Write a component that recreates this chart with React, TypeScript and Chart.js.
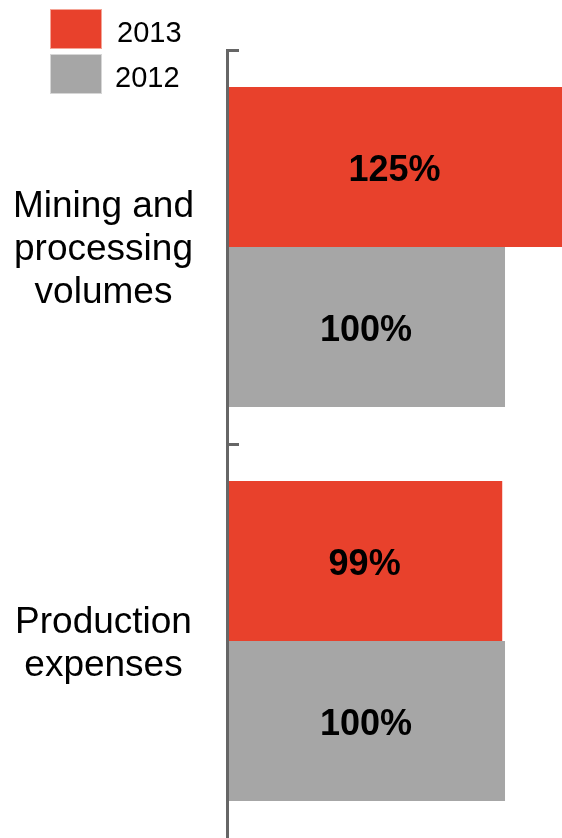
import React, { useEffect, useRef } from "react";
import { Chart, registerables } from "chart.js";

Chart.register(...registerables);

// ---- data ----
const categories: string[][] = [
  ["Mining and", "processing", "volumes"],
  ["Production", "expenses"],
];
const seriesNames: string[] = ["2013", "2012"];
const values2013: number[] = [125, 99];
const values2012: number[] = [100, 100];
const seriesColors: string[] = ["#E8412C", "#A6A6A6"];
const legendBorders: string[] = ["#F4A597", "#D6D6D6"];

const FONT = "'Liberation Sans', Arial, Helvetica, sans-serif";
const AXIS_COLOR = "#666666";

const barLabelPlugin = {
  id: "barLabels",
  afterDatasetsDraw(chart: any) {
    const { ctx, chartArea } = chart;
    ctx.save();
    ctx.font = `bold 36px ${FONT}`;
    ctx.fillStyle = "#000000";
    ctx.textAlign = "center";
    ctx.textBaseline = "middle";
    chart.data.datasets.forEach((ds: any, di: number) => {
      const meta = chart.getDatasetMeta(di);
      meta.data.forEach((bar: any, i: number) => {
        const { x, y, base } = bar.getProps(["x", "y", "base"], true);
        const left = Math.max(Math.min(x, base), chartArea.left);
        const right = Math.min(Math.max(x, base), chartArea.right);
        ctx.fillText(`${ds.data[i]}%`, (left + right) / 2, y + 4);
      });
    });
    ctx.restore();
  },
};

export default function App() {
  const canvasRef = useRef<HTMLCanvasElement | null>(null);

  useEffect(() => {
    if (!canvasRef.current) return;
    const chart = new Chart(canvasRef.current, {
      type: "bar",
      data: {
        labels: categories,
        datasets: [
          {
            label: seriesNames[0],
            data: values2013,
            backgroundColor: seriesColors[0],
            borderWidth: 0,
          },
          {
            label: seriesNames[1],
            data: values2012,
            backgroundColor: seriesColors[1],
            borderWidth: 0,
          },
        ],
      },
      options: {
        indexAxis: "y",
        responsive: false,
        animation: false,
        devicePixelRatio: 1,
        layout: { padding: { top: 50, left: 0, right: 0, bottom: 0 } },
        datasets: {
          bar: { barPercentage: 1, categoryPercentage: 0.812 },
        },
        plugins: {
          legend: { display: false },
          tooltip: { enabled: false },
        },
        scales: {
          x: {
            display: false,
            min: 0,
            max: 120.5,
          },
          y: {
            position: "left",
            offset: true,
            grid: {
              display: true,
              offset: true,
              drawOnChartArea: false,
              drawTicks: true,
              tickLength: -12,
              tickColor: (c: any) =>
                c.type === "tick" ? AXIS_COLOR : "rgba(0,0,0,0)",
              tickWidth: 3,
            },
            border: { display: true, color: AXIS_COLOR, width: 3, z: 1 },
            ticks: {
              crossAlign: "center",
              padding: 45,
              labelOffset: 3,
              color: "#000000",
              font: { family: FONT, size: 37, lineHeight: 1.17 },
            },
            afterFit(scale: any) {
              scale.width = 227;
              scale.paddingTop = 0;
              scale.paddingBottom = 0;
              scale.paddingLeft = 0;
              scale.paddingRight = 0;
            },
          },
        },
      },
      plugins: [barLabelPlugin],
    });
    return () => chart.destroy();
  }, []);

  return (
    <div
      style={{
        position: "fixed",
        left: 0,
        top: 0,
        width: 562,
        height: 838,
        background: "#ffffff",
        overflow: "hidden",
      }}
    >
      <canvas
        ref={canvasRef}
        width={562}
        height={838}
        style={{ display: "block", width: 562, height: 838 }}
      />
      {seriesNames.map((name, i) => (
        <React.Fragment key={name}>
          <div
            style={{
              position: "absolute",
              left: 50,
              top: i === 0 ? 9 : 54,
              width: 52,
              height: 40,
              boxSizing: "border-box",
              background: seriesColors[i],
              border: `1px solid ${legendBorders[i]}`,
            }}
          />
          <div
            style={{
              position: "absolute",
              left: i === 0 ? 117 : 115,
              top: i === 0 ? 12 : 57,
              height: 40,
              lineHeight: "40px",
              fontFamily: FONT,
              fontSize: 29,
              color: "#000000",
              whiteSpace: "nowrap",
            }}
          >
            {name}
          </div>
        </React.Fragment>
      ))}
    </div>
  );
}
